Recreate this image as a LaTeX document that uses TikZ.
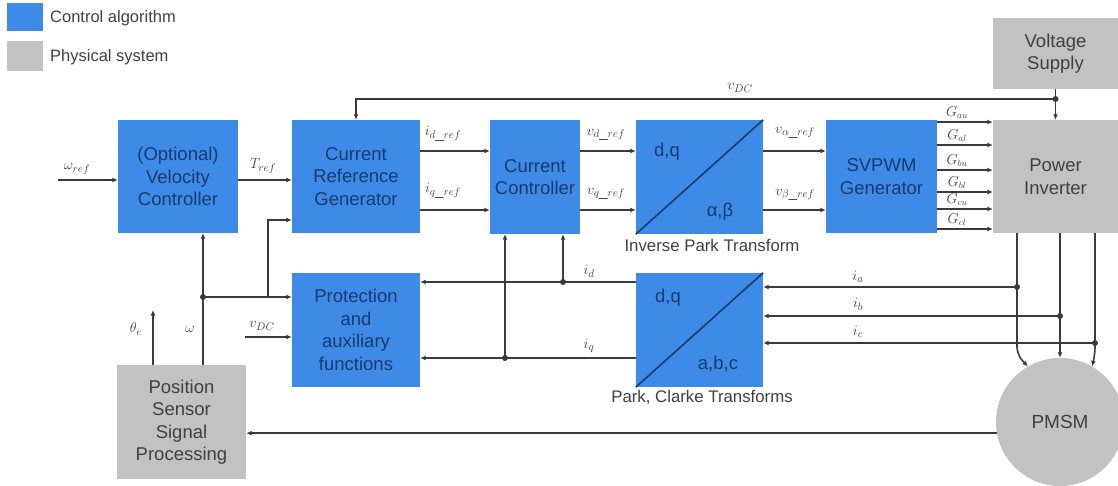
\documentclass[tikz,border=0pt]{standalone}
\usepackage{fontspec}
\setmainfont{Liberation Sans}
\usetikzlibrary{arrows.meta,calc}
\definecolor{cblue}{HTML}{3D8BE6}
\definecolor{cgray}{HTML}{C2C2C2}
\definecolor{navy}{HTML}{173A70}
\definecolor{dgray}{HTML}{404040}
\definecolor{wire}{HTML}{3A3A3A}
\begin{document}
\begin{tikzpicture}[x=1pt,y=-1pt,
 blk/.style={fill=cblue, draw=none, text=navy, align=center, font=\fontsize{18.5}{22.5}\selectfont, inner sep=0},
 phys/.style={fill=cgray, draw=none, text=dgray, align=center, font=\fontsize{18.5}{22.5}\selectfont, inner sep=0},
 wirel/.style={draw=wire, line width=1.6pt},
 arr/.style={wirel, -{Latex[length=5.5pt,width=5pt]}},
 jdot/.style={circle, fill=wire, inner sep=0, minimum size=6pt},
 lbl/.style={text=dgray, font=\fontsize{15}{17}\selectfont, inner sep=0},
 glbl/.style={text=dgray, font=\fontsize{13.5}{15}\selectfont, inner sep=0},
 subttl/.style={text=dgray, font=\fontsize{16.8}{19}\selectfont, inner sep=0},
 intxt/.style={text=navy, font=\fontsize{18.5}{22.5}\selectfont, inner sep=0},
 legtxt/.style={text=dgray, font=\fontsize{16.5}{19}\selectfont, inner sep=0, anchor=west},
]
\fill[white] (0,0) rectangle (1118,486);
\useasboundingbox (0,0) rectangle (1118,486);

% legend
\node[fill=cblue, minimum width=36, minimum height=28, inner sep=0] (lgA) at (25,17.5) {};
\node[legtxt] (lgAt) at (50,18) {Control algorithm};
\node[fill=cgray, minimum width=36, minimum height=30, inner sep=0] (lgB) at (25,56) {};
\node[legtxt] (lgBt) at (50,57) {Physical system};

% blocks
\node[blk, minimum width=120, minimum height=113] (vc) at (178,176.5) {(Optional)\\Velocity\\Controller};
\node[blk, minimum width=128, minimum height=113] (crg) at (356,176.5) {Current\\Reference\\Generator};
\node[blk, minimum width=90, minimum height=114] (cc) at (535,177) {Current\\Controller};
\node[blk, minimum width=127, minimum height=114] (ipt) at (699.5,177) {};
\node[blk, minimum width=111, minimum height=113] (svp) at (881.5,176.5) {SVPWM\\Generator};
\node[phys, minimum width=125, minimum height=113] (inv) at (1055.5,176.5) {Power\\Inverter};
\node[phys, minimum width=125, minimum height=71] (vs) at (1055.5,53.5) {Voltage\\Supply};
\node[blk, minimum width=128, minimum height=114] (prot) at (356,330) {Protection\\and\\auxiliary\\functions};
\node[blk, minimum width=127, minimum height=114] (pct) at (699.5,330) {};
\node[phys, minimum width=129, minimum height=114] (pss) at (181.5,422) {Position\\Sensor\\Signal\\Processing};
\node[circle, fill=cgray, text=dgray, minimum size=128, inner sep=0, font=\fontsize{19}{23}\selectfont] (pmsm) at (1060,422) {PMSM};

% transform box contents
\draw[navy, line width=1.6pt] (ipt.south west) -- (ipt.north east);
\draw[navy, line width=1.6pt] (pct.south west) -- (pct.north east);
\node[intxt] (iptdq) at (667,152) {d,q};
\node[intxt] (iptab) at (720,212) {α,β};
\node[intxt] (pctdq) at (668,298) {d,q};
\node[intxt] (pctabc) at (718,364) {a,b,c};
\node[subttl] (iptl) at (712,245) {Inverse Park Transform};
\node[subttl] (pctl) at (702,397) {Park, Clarke Transforms};

% helper coordinates
\coordinate (yTop) at (0,99);
\coordinate (y1) at (0,151);
\coordinate (y2) at (0,210);
\coordinate (wref) at (58,180);
\coordinate (yCRGw) at (0,220);
\coordinate (yJ) at (0,297);
\coordinate (vdcin) at (245,337);
\coordinate (yid) at (0,282);
\coordinate (yiq) at (0,358);
\coordinate (ya) at (0,287);
\coordinate (yb) at (0,316);
\coordinate (yc) at (0,343);
\coordinate (xA) at (1017,0);
\coordinate (xB) at (1060,0);
\coordinate (xC) at (1095,0);
\coordinate (bend) at (0,355);
\coordinate (xid) at (563,0);
\coordinate (xiq) at (505,0);
\coordinate (xw) at (203,0);
\coordinate (xbr) at (268,0);
\coordinate (xth) at (153,0);
\coordinate (thend) at (153,310);

% vDC bus
\node[jdot] (jv) at (vs.south |- yTop) {};
\draw[arr] (vs.south) -- (inv.north);
\draw[arr] (jv.center) -| (crg.north);
\node[lbl] (lvdc) at (740,88) {$v_{DC}$};

% forward path
\draw[arr] (wref) -- (vc.west |- wref);
\node[lbl] (lwref) at (77,169) {$\omega_{ref}$};
\draw[arr] (vc.east |- wref) -- (crg.west |- wref);
\node[lbl] (ltref) at (263,166) {$T_{ref}$};
\draw[arr] (crg.east |- y1) -- (cc.west |- y1);
\node[lbl] (lidr) at (443,134) {$i_{d\_ref}$};
\draw[arr] (crg.east |- y2) -- (cc.west |- y2);
\node[lbl] (liqr) at (443,191) {$i_{q\_ref}$};
\draw[arr] (cc.east |- y1) -- (ipt.west |- y1);
\node[lbl] (lvdr) at (606,135) {$v_{d\_ref}$};
\draw[arr] (cc.east |- y2) -- (ipt.west |- y2);
\node[lbl] (lvqr) at (606,194) {$v_{q\_ref}$};
\draw[arr] (ipt.east |- y1) -- (svp.west |- y1);
\node[lbl] (lvar) at (795,133) {$v_{\alpha\_ref}$};
\draw[arr] (ipt.east |- y2) -- (svp.west |- y2);
\node[lbl] (lvbr) at (795,195) {$v_{\beta\_ref}$};

% gate signals
\foreach \i/\yy/\ll in {1/122/au,2/145/al,3/170/bu,4/192/bl,5/209/cu,6/229/cl}{
  \coordinate (g\i) at (0,\yy);
  \draw[arr] (svp.east |- g\i) -- (inv.west |- g\i);
  \node[glbl] (lg\i) at (957,\yy-9) {$G_{\ll}$};
}

% phase lines to motor
\draw[arr, rounded corners=8pt] (inv.south -| xA) -- (xA |- bend) -- (pmsm.120);
\draw[arr] (inv.south -| xB) -- (pmsm.north);
\draw[arr, rounded corners=8pt] (inv.south -| xC) -- (xC |- bend) -- (pmsm.60);

% current measurements
\node[jdot] (da) at (xA |- ya) {};
\node[jdot] (db) at (xB |- yb) {};
\node[jdot] (dc) at (xC |- yc) {};
\draw[arr] (da.center) -- (pct.east |- ya);
\draw[arr] (db.center) -- (pct.east |- yb);
\draw[arr] (dc.center) -- (pct.east |- yc);
\node[lbl] (lia) at (858,277) {$i_a$};
\node[lbl] (lib) at (858,304) {$i_b$};
\node[lbl] (lic) at (858,332) {$i_c$};

% id, iq
\draw[arr] (pct.west |- yid) -- (prot.east |- yid);
\draw[arr] (pct.west |- yiq) -- (prot.east |- yiq);
\node[jdot] (did) at (xid |- yid) {};
\node[jdot] (diq) at (xiq |- yiq) {};
\draw[arr] (did.center) -- (cc.south -| xid);
\draw[arr] (diq.center) -- (cc.south -| xiq);
\node[lbl] (lid) at (589,271) {$i_d$};
\node[lbl] (liq) at (589,346) {$i_q$};

% speed / position feedback
\draw[arr] (pss.north -| xw) -- (vc.south -| xw);
\node[jdot] (dw) at (xw |- yJ) {};
\draw[arr] (dw.center) -- (prot.west |- yJ);
\draw[arr] (xbr |- yJ) -- (xbr |- yCRGw) -- (crg.west |- yCRGw);
\node[lbl] (lw) at (190,329) {$\omega$};
\draw[arr] (pss.north -| xth) -- (thend);
\node[lbl] (lth) at (136,329) {$\theta_e$};
\draw[arr] (vdcin) -- (prot.west |- vdcin);
\node[lbl] (lvdc2) at (262,326) {$v_{DC}$};

% motor to sensor
\draw[arr] (pmsm.190) -- (pss.east |- pmsm.190);
\end{tikzpicture}
\end{document}
